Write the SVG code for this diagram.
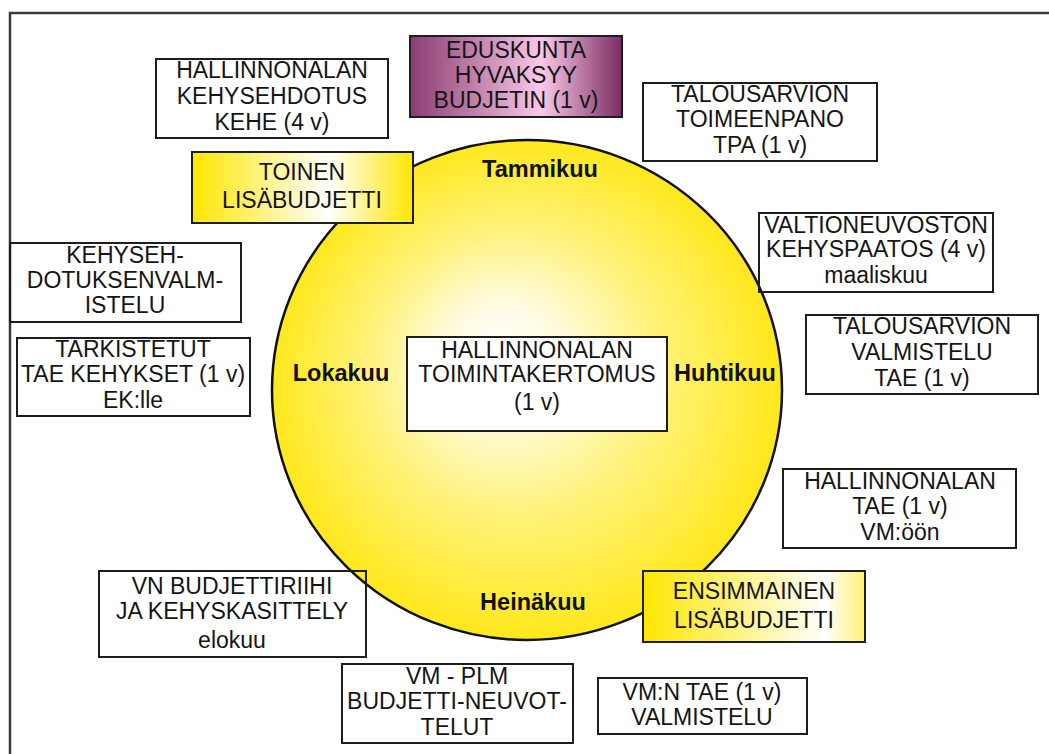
<svg xmlns="http://www.w3.org/2000/svg" width="1049" height="754" viewBox="0 0 1049 754">
<style>
.t{font-family:"Liberation Sans",Arial,sans-serif;font-size:23px;fill:#151515;text-anchor:middle}
.m{font-family:"Liberation Sans",Arial,sans-serif;font-size:23.5px;font-weight:bold;fill:#111;text-anchor:middle}
.b{fill:none;stroke:#1e1e1e;stroke-width:2}
.w{fill:#fff;stroke:#1e1e1e;stroke-width:2}
</style>
<defs>
<radialGradient id="sun" cx="50%" cy="50%" r="52%" fx="44%" fy="42%">
<stop offset="0" stop-color="#ffffff"/>
<stop offset="0.22" stop-color="#fffbe0"/>
<stop offset="0.55" stop-color="#fff27a"/>
<stop offset="1" stop-color="#ffe714"/>
</radialGradient>
<linearGradient id="purple" x1="0" y1="0" x2="1" y2="0">
<stop offset="0" stop-color="#8a3c70"/>
<stop offset="0.62" stop-color="#f9c8e9"/>
<stop offset="1" stop-color="#7a2c61"/>
</linearGradient>
<linearGradient id="yel1" x1="0" y1="0" x2="1" y2="0">
<stop offset="0" stop-color="#ffe600"/>
<stop offset="0.62" stop-color="#ffffff"/>
<stop offset="1" stop-color="#ffe600"/>
</linearGradient>
<linearGradient id="yel2" x1="0" y1="0" x2="1" y2="0">
<stop offset="0" stop-color="#ffe600"/>
<stop offset="0.82" stop-color="#ffffff"/>
<stop offset="1" stop-color="#fff170"/>
</linearGradient>
</defs>
<rect x="0" y="0" width="1049" height="754" fill="#fff"/>
<path d="M10,754 V13 H1049" fill="none" stroke="#3a3a3a" stroke-width="2.5"/>

<g id="circle">
<ellipse cx="527" cy="390" rx="255" ry="250" fill="url(#sun)" stroke="#111" stroke-width="2.5"/>
<text class="m" x="540" y="177">Tammikuu</text>
<text class="m" x="341" y="381">Lokakuu</text>
<text class="m" x="725" y="381">Huhtikuu</text>
<text class="m" x="533" y="610">Heinäkuu</text>
</g>

<g id="connectors"></g>

<g id="center">
<rect class="w" x="407" y="337" width="260" height="94"/>
<text class="t" x="537" y="358">HALLINNONALAN</text>
<text class="t" x="537" y="382">TOIMINTAKERTOMUS</text>
<text class="t" x="537" y="410">(1 v)</text>
</g>

<g id="kehe">
<rect class="b" x="156" y="59" width="232" height="79"/>
<text class="t" x="272" y="78">HALLINNONALAN</text>
<text class="t" x="272" y="104">KEHYSEHDOTUS</text>
<text class="t" x="272" y="130">KEHE (4 v)</text>
</g>

<g id="eduskunta">
<rect x="410" y="36" width="212" height="81" fill="url(#purple)" stroke="#1e1e1e" stroke-width="2"/>
<text class="t" x="516" y="58">EDUSKUNTA</text>
<text class="t" x="516" y="83">HYVAKSYY</text>
<text class="t" x="516" y="108">BUDJETIN (1 v)</text>
</g>

<g id="toinen">
<rect x="192" y="152" width="221" height="71" fill="url(#yel1)" stroke="#1e1e1e" stroke-width="2"/>
<text class="t" x="302" y="180">TOINEN</text>
<text class="t" x="302" y="208">LISÄBUDJETTI</text>
</g>

<g id="tpa">
<rect class="b" x="643" y="83" width="234" height="78"/>
<text class="t" x="760" y="102">TALOUSARVION</text>
<text class="t" x="760" y="127">TOIMEENPANO</text>
<text class="t" x="760" y="153">TPA (1 v)</text>
</g>

<g id="kehyspaatos">
<rect class="b" x="759" y="213" width="234" height="79"/>
<text class="t" x="876" y="233">VALTIONEUVOSTON</text>
<text class="t" x="876" y="257">KEHYSPAATOS (4 v)</text>
<text class="t" x="876" y="283">maaliskuu</text>
</g>

<g id="kehysehdotus">
<rect class="b" x="10" y="243" width="231" height="79"/>
<text class="t" x="125" y="263">KEHYSEH-</text>
<text class="t" x="125" y="288">DOTUKSENVALM-</text>
<text class="t" x="125" y="313">ISTELU</text>
</g>

<g id="tarkistetut">
<rect class="b" x="17" y="338" width="233" height="78"/>
<text class="t" x="133" y="357">TARKISTETUT</text>
<text class="t" x="133" y="382">TAE KEHYKSET (1 v)</text>
<text class="t" x="133" y="408">EK:lle</text>
</g>

<g id="tae-valmistelu">
<rect class="b" x="806" y="315" width="232" height="79"/>
<text class="t" x="922" y="334">TALOUSARVION</text>
<text class="t" x="922" y="360">VALMISTELU</text>
<text class="t" x="922" y="386">TAE (1 v)</text>
</g>

<g id="hallinnonalan-tae">
<rect class="b" x="783" y="469" width="233" height="79"/>
<text class="t" x="900" y="489">HALLINNONALAN</text>
<text class="t" x="900" y="514">TAE (1 v)</text>
<text class="t" x="900" y="540">VM:öön</text>
</g>

<g id="ensimmainen">
<rect x="643" y="571" width="222" height="71" fill="url(#yel2)" stroke="#1e1e1e" stroke-width="2"/>
<text class="t" x="754" y="599">ENSIMMAINEN</text>
<text class="t" x="754" y="628">LISÄBUDJETTI</text>
</g>

<g id="budjettiriihi">
<rect class="b" x="99" y="571" width="267" height="86"/>
<text class="t" x="232" y="594">VN BUDJETTIRIIHI</text>
<text class="t" x="232" y="619">JA KEHYSKASITTELY</text>
<text class="t" x="232" y="648">elokuu</text>
</g>

<g id="neuvottelut">
<rect class="b" x="342" y="664" width="231" height="79"/>
<text class="t" x="457" y="684">VM - PLM</text>
<text class="t" x="457" y="709">BUDJETTI-NEUVOT-</text>
<text class="t" x="457" y="735">TELUT</text>
</g>

<g id="vm-tae">
<rect class="b" x="598" y="678" width="209" height="56"/>
<text class="t" x="702" y="700">VM:N TAE (1 v)</text>
<text class="t" x="702" y="725">VALMISTELU</text>
</g>
</svg>
